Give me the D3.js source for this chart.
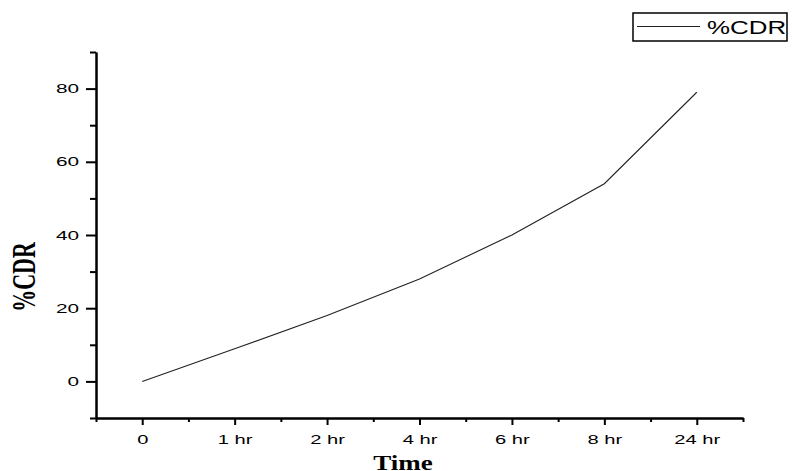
<!DOCTYPE html>
<html>
<head>
<meta charset="utf-8">
<script src="https://cdn.jsdelivr.net/npm/d3@7"></script>
<style>
  body { margin: 0; background: #fff; }
  svg { display: block; }
</style>
</head>
<body>
<div id="chart"></div>
<script>
// data
var times = ["0", "1 hr", "2 hr", "4 hr", "6 hr", "8 hr", "24 hr"];
var cdr = [0, 8.9, 18, 28, 40, 54, 79];
var yMajor = [0, 20, 40, 60, 80];
var yMinor = [-10, 10, 30, 50, 70, 90];

var W = 792, H = 471;
// plot box (note: "top" is taken by window.top, so use other names)
var plotL = 96, plotR = 743, plotT = 52, plotB = 418;

var svg = d3.select("#chart").append("svg")
    .attr("width", W)
    .attr("height", H);

var x = d3.scalePoint().domain(times).range([plotL, plotR]).padding(0.5);
// index scale, just for the little ticks between categories
var xi = d3.scaleLinear().domain([-0.5, times.length - 0.5]).range([plotL, plotR]);
var y = d3.scaleLinear().domain([-10, 90]).range([plotB, plotT]);

var font = "'Liberation Sans', Arial, sans-serif";
var serif = "'Liberation Serif', 'Times New Roman', serif";

// y axis
var gy = svg.append("g").attr("transform", `translate(${plotL},0)`)
    .call(d3.axisLeft(y).tickValues(yMajor).tickSize(10).tickPadding(7).tickSizeOuter(0));
svg.append("g").attr("transform", `translate(${plotL},0)`)
    .call(d3.axisLeft(y).tickValues(yMinor).tickSize(6).tickFormat("").tickSizeOuter(0));

gy.selectAll("text")
    .attr("x", 0)
    .attr("transform", "translate(-17,0) scale(1.6,1)");

// x axis
var gx = svg.append("g").attr("transform", `translate(0,${plotB})`)
    .call(d3.axisBottom(x).tickSize(7).tickPadding(10).tickSizeOuter(0));
svg.append("g").attr("transform", `translate(0,${plotB})`)
    .call(d3.axisBottom(xi).tickValues(d3.range(-0.5, times.length, 1)).tickSize(4).tickFormat("").tickSizeOuter(0));

gx.selectAll("text")
    .attr("x", 0)
    .attr("transform", "scale(1.55,1)");

svg.selectAll(".domain, .tick line")
    .attr("stroke", "#000")
    .attr("stroke-width", 2);

svg.selectAll(".tick text")
    .attr("fill", "#000")
    .style("font-family", font)
    .style("font-size", "13px");

// the series
var line = d3.line()
    .x((d, i) => x(times[i]))
    .y(d => y(d));

svg.append("path")
    .datum(cdr)
    .attr("d", line)
    .attr("fill", "none")
    .attr("stroke", "#222")
    .attr("stroke-width", 1.1);

// axis titles
svg.append("text")
    .attr("transform", "translate(23,277) scale(1.5,1) rotate(-90)")
    .attr("text-anchor", "middle")
    .attr("dy", "0.35em")
    .style("font-family", serif)
    .style("font-weight", "bold")
    .style("font-size", "22px")
    .text("%CDR");

svg.append("text")
    .attr("transform", "translate(403,470) scale(1.35,1)")
    .attr("text-anchor", "middle")
    .style("font-family", serif)
    .style("font-weight", "bold")
    .style("font-size", "20px")
    .text("Time");

// legend
var lg = svg.append("g");
lg.append("rect")
    .attr("x", 633).attr("y", 13)
    .attr("width", 154).attr("height", 28)
    .attr("fill", "#fff")
    .attr("stroke", "#000")
    .attr("stroke-width", 1.5);
lg.append("line")
    .attr("x1", 637).attr("x2", 700)
    .attr("y1", 26.5).attr("y2", 26.5)
    .attr("stroke", "#222")
    .attr("stroke-width", 1.1);
lg.append("text")
    .attr("transform", "translate(707,33.5) scale(1.44,1)")
    .style("font-family", font)
    .style("font-size", "18px")
    .text("%CDR");
</script>
</body>
</html>
